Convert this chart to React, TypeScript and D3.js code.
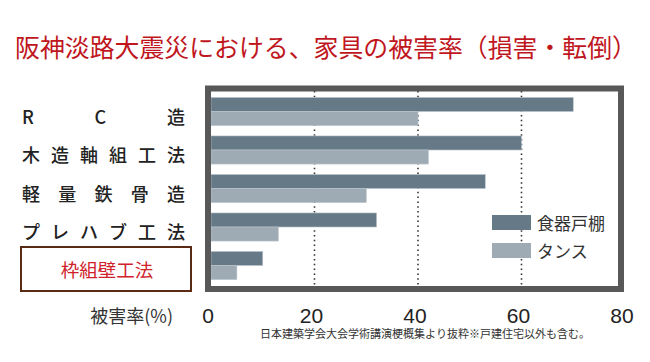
import React from "react";
import * as d3 from "d3";

const title = "阪神淡路大震災における、家具の被害率（損害・転倒）";
const categories = ["RC造", "木造軸組工法", "軽量鉄骨造", "プレハブ工法", "枠組壁工法"];
const seriesNames = ["食器戸棚", "タンス"];
const cupboard = [70, 60, 53, 32, 10];
const chest = [40, 42, 30, 13, 5];
const xTicks = [0, 20, 40, 60, 80];
const gridTicks = [20, 40, 60];
const axisTitle = "被害率(%)";
const footnote = "日本建築学会大会学術講演梗概集より抜粋※戸建住宅以外も含む。";
const colors = ["#657987", "#9eabb5"];

const W = 650;
const H = 362;
const inner = { left: 211, right: 619, top: 91, bottom: 286 };

export default function App() {
  const x = d3.scaleLinear().domain([0, 80]).range([211, 625]);
  const y = d3
    .scaleBand<string>()
    .domain(categories)
    .range([inner.top, inner.bottom])
    .paddingInner(0.27)
    .paddingOuter(0.1675);
  const sub = d3.scaleBand<string>().domain(seriesNames).range([0, y.bandwidth()]);
  const values = [cupboard, chest];
  const jp = "'Noto Sans CJK JP', 'Noto Sans', sans-serif";
  const highlight = categories[categories.length - 1];

  return (
    <svg
      width={W}
      height={H}
      style={{ position: "absolute", left: 0, top: 0, background: "#fff" }}
    >
      <text
        x={15}
        y={57}
        fontSize={25}
        fill="#c0161e"
        fontFamily={jp}
        textLength={622}
        lengthAdjust="spacingAndGlyphs"
      >
        {title}
      </text>

      {/* grid */}
      {gridTicks.map((t) => (
        <line
          key={t}
          x1={x(t)}
          x2={x(t)}
          y1={inner.top}
          y2={inner.bottom}
          stroke="#333"
          strokeWidth={1.6}
          strokeDasharray="1.5 3.3"
        />
      ))}

      {/* bars */}
      {categories.map((c, i) =>
        seriesNames.map((s, k) => (
          <rect
            key={c + s}
            x={x(0)}
            y={(y(c) as number) + (sub(s) as number)}
            width={x(values[k][i]) - x(0)}
            height={sub.bandwidth()}
            fill={colors[k]}
            stroke="#b9c4cc"
            strokeWidth={0.6}
          />
        ))
      )}

      {/* frame */}
      <rect
        x={208}
        y={88.5}
        width={413}
        height={200.5}
        fill="none"
        stroke="#585858"
        strokeWidth={6}
      />

      {/* legend */}
      {seriesNames.map((s, k) => (
        <g key={s}>
          <rect x={492} y={215 + k * 28} width={39} height={15} fill={colors[k]} />
          <text
            x={537}
            y={222.5 + k * 28}
            dominantBaseline="central"
            fontSize={17}
            fill="#333"
            fontFamily={jp}
          >
            {s}
          </text>
        </g>
      ))}

      {/* category labels */}
      {categories.map((c) => {
        const cy = (y(c) as number) + y.bandwidth() / 2 + 4;
        if (c === highlight) {
          return (
            <g key={c}>
              <rect x={21} y={247} width={170} height={44} fill="none" stroke="#5a2a14" strokeWidth={2} />
              <text
                x={107}
                y={cy}
                textAnchor="middle"
                dominantBaseline="central"
                fontSize={18.5}
                fill="#d0222a"
                fontFamily={jp}
              >
                {c}
              </text>
            </g>
          );
        }
        return (
          <text
            key={c}
            x={22}
            y={cy}
            dominantBaseline="central"
            fontSize={18}
            fontWeight={500}
            fill="#222"
            fontFamily={jp}
            textLength={163}
            lengthAdjust="spacing"
          >
            {c}
          </text>
        );
      })}

      {/* x axis labels */}
      {xTicks.map((t) => (
        <text
          key={t}
          x={x(t) - 3}
          y={315}
          textAnchor="middle"
          dominantBaseline="central"
          fontSize={21}
          fill="#222"
          fontFamily="'Liberation Sans', Arial, sans-serif"
        >
          {t}
        </text>
      ))}
      <text
        x={173}
        y={315}
        textAnchor="end"
        dominantBaseline="central"
        fontSize={18}
        fill="#333"
        fontFamily={jp}
      >
        {axisTitle}
      </text>

      <text
        x={260}
        y={333}
        dominantBaseline="central"
        fontSize={11.5}
        fill="#333"
        fontFamily={jp}
        textLength={330}
        lengthAdjust="spacingAndGlyphs"
      >
        {footnote}
      </text>
    </svg>
  );
}
